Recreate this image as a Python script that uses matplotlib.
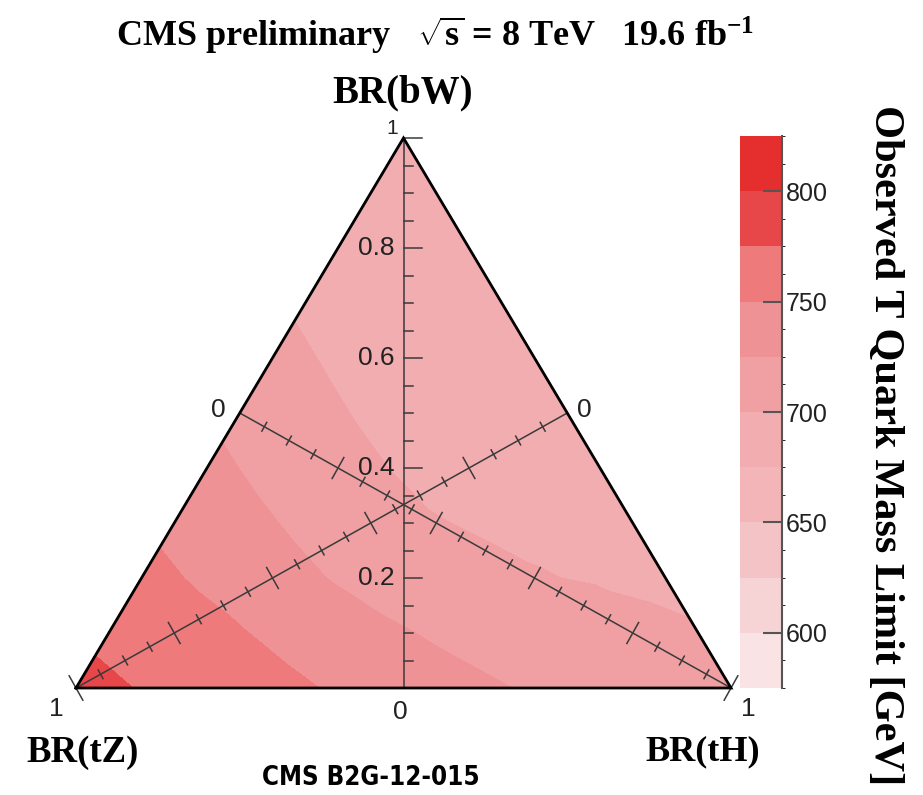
import numpy as np
import matplotlib
matplotlib.use("Agg")
import matplotlib.pyplot as plt
import matplotlib.tri as mtri
from matplotlib.colors import ListedColormap, BoundaryNorm

# ---------------- data ----------------
# Observed T quark mass limit [GeV] on a ternary lattice.
# Each row: fixed BR(bW); entries: BR(tH) = 0, 0.1, 0.2, ... ; BR(tZ) = 1 - bW - tH
bw_grid = [0.0, 0.1, 0.2, 0.3, 0.4, 0.5, 0.6, 0.7, 0.8, 0.9, 1.0]
lim_bw00 = [784, 773.5, 765.5, 757, 747, 738.5, 730, 722.2, 717.2, 712.7, 708]
lim_bw01 = [768.5, 759.5, 751.4, 740.6, 731.1, 722, 714.3, 710.2, 705, 701.5]
lim_bw02 = [756, 746.6, 734.2, 722.9, 712.4, 704.2, 701, 698.4, 695.8]
lim_bw03 = [745, 732, 720, 709, 700.6, 697.6, 695.5, 693.2]
lim_bw04 = [731, 718.3, 706.6, 697.9, 694.9, 692.9, 690.9]
lim_bw05 = [718, 706, 697, 694, 692, 690]
lim_bw06 = [706, 697, 694, 692, 690]
lim_bw07 = [697, 694, 692, 690]
lim_bw08 = [694, 692, 690]
lim_bw09 = [692, 690]
lim_bw10 = [690]
limit_rows = [lim_bw00, lim_bw01, lim_bw02, lim_bw03, lim_bw04, lim_bw05,
              lim_bw06, lim_bw07, lim_bw08, lim_bw09, lim_bw10]

z_min, z_max, z_step = 575, 825, 12.5
cbar_ticks = [600, 650, 700, 750, 800]
axis_tick_labels = ["0.2", "0.4", "0.6", "0.8"]

title_text = r"CMS preliminary   $\sqrt{s}$ = 8 TeV   19.6 fb$^{-1}$"
cbar_label = "Observed T Quark Mass Limit [GeV]"

# ---------------- style ----------------
plt.rcParams["font.family"] = ["Liberation Sans", "DejaVu Sans"]
plt.rcParams["mathtext.fontset"] = "custom"
plt.rcParams["mathtext.rm"] = "Liberation Serif:bold"
plt.rcParams["mathtext.it"] = "Liberation Serif:bold"
plt.rcParams["mathtext.bf"] = "Liberation Serif:bold"

palette = ["#f9e3e4", "#f9e3e4", "#f6d4d5", "#f6d4d5", "#f4c3c5", "#f4c3c5",
           "#f3b5b7", "#f3b5b7", "#f2adb0", "#f2adb0", "#f0a0a3", "#f0a0a3",
           "#ef9295", "#ef9295", "#ee7a7c", "#ee7a7c", "#e8474a", "#e8474a",
           "#e52e2e", "#e52e2e"]

FW, FH = 923, 795
fig = plt.figure(figsize=(FW / 100, FH / 100), dpi=100)

# triangle box in pixels
X0, X1, YT, YB = 76, 731, 138, 688
W, H = X1 - X0, YB - YT
ax = fig.add_axes([X0 / FW, 1 - YB / FH, W / FW, H / FH])
ax.set_xlim(0, W)
ax.set_ylim(0, H)
ax.axis("off")


def to_xy(bw, th):
    bw = np.asarray(bw, float)
    th = np.asarray(th, float)
    return (th + bw / 2.0) * W, bw * H


# build lattice
bw_pts, th_pts, z_pts = [], [], []
for bw, row in zip(bw_grid, limit_rows):
    for j, v in enumerate(row):
        bw_pts.append(bw)
        th_pts.append(j * 0.1)
        z_pts.append(v)
xs, ys = to_xy(bw_pts, th_pts)
tri = mtri.Triangulation(xs, ys)

levels = np.arange(z_min, z_max + 0.01, z_step)
cmap = ListedColormap(palette)
norm = BoundaryNorm(levels, cmap.N)
cs = ax.tricontourf(tri, z_pts, levels=levels, cmap=cmap, norm=norm)
cs.set_edgecolor("face")
cs.set_linewidth(0.6)

# triangle outline
vx, vy = to_xy([0, 0, 1, 0], [0, 1, 0, 0])
ax.plot(vx, vy, color="black", lw=2.0, clip_on=False, zorder=5, solid_joinstyle="miter")

axis_col = "#3a3a3a"
tick_fs = 19
# vertical BR(bW) axis
ax.plot([W / 2, W / 2], [0, H], color=axis_col, lw=1.1, zorder=4, clip_on=False)
for k in range(1, 21):
    yv = k * 0.05 * H
    major = (k % 4 == 0)
    ln = 18 if major else 9
    ax.plot([W / 2, W / 2 + ln], [yv, yv], color=axis_col, lw=1.1, zorder=4, clip_on=False)
for lab in axis_tick_labels:
    ax.text(W / 2 - 9, float(lab) * H, lab, ha="right", va="center", fontsize=tick_fs, color="#222")
ax.text(W / 2 - 6, H + 10, "1", ha="right", va="center", fontsize=15, color="#222")
ax.text(W / 2 - 3, -24, "0", ha="center", va="center", fontsize=tick_fs, color="#222")


def slanted_axis(p0, p1):
    p0 = np.array(p0, float)
    p1 = np.array(p1, float)
    d = p1 - p0
    L = np.hypot(*d)
    u = d / L
    n = np.array([-u[1], u[0]])
    ax.plot([p0[0], p1[0]], [p0[1], p1[1]], color=axis_col, lw=1.1, zorder=4, clip_on=False)
    for k in range(1, 21):
        p = p0 + d * (k * 0.05)
        half = 12 if k % 4 == 0 else 5
        if k == 20:
            half = 14
        a, b = p - n * half, p + n * half
        ax.plot([a[0], b[0]], [a[1], b[1]], color=axis_col, lw=1.1, zorder=4, clip_on=False)


# BR(tH) axis: from left-edge midpoint (tH=0) to tH vertex (tH=1)
m_left = to_xy(0.5, 0.0)
v_th = to_xy(0.0, 1.0)
slanted_axis(m_left, v_th)
# BR(tZ) axis: from right-edge midpoint (tZ=0) to tZ vertex (tZ=1)
m_right = to_xy(0.5, 0.5)
v_tz = to_xy(0.0, 0.0)
slanted_axis(m_right, v_tz)

ax.text(m_left[0] - 14, m_left[1] + 3, "0", ha="right", va="center", fontsize=tick_fs, color="#222")
ax.text(m_right[0] + 10, m_right[1] + 3, "0", ha="left", va="center", fontsize=tick_fs, color="#222")
ax.text(v_tz[0] - 20, v_tz[1] - 21, "1", ha="center", va="center", fontsize=tick_fs, color="#222")
ax.text(v_th[0] + 17, v_th[1] - 21, "1", ha="center", va="center", fontsize=tick_fs, color="#222")

# axis titles
serif = ["Liberation Serif", "DejaVu Serif"]
fig.text(403 / FW, 1 - 93 / FH, "BR(bW)", ha="center", va="center", family=serif,
         weight="bold", fontsize=28)
fig.text(83 / FW, 1 - 752 / FH, "BR(tZ)", ha="center", va="center", family=serif,
         weight="bold", fontsize=26.5)
fig.text(703 / FW, 1 - 752 / FH, "BR(tH)", ha="center", va="center", family=serif,
         weight="bold", fontsize=26)
fig.text(435 / FW, 1 - 35 / FH, title_text, ha="center", va="center", family=serif,
         weight="bold", fontsize=26)
fig.text(371 / FW, 1 - 778 / FH, "CMS B2G-12-015", ha="center", va="center",
         family=["DejaVu Sans", "Liberation Sans"], fontstretch="condensed",
         weight="bold", fontsize=18.5)

# colorbar
CX0, CX1, CYT, CYB = 740, 782, 136, 688
cax = fig.add_axes([CX0 / FW, 1 - CYB / FH, (CX1 - CX0) / FW, (CYB - CYT) / FH])
cb = fig.colorbar(cs, cax=cax, ticks=cbar_ticks)
cb.outline.set_visible(False)
cax.plot([1, 1], [0, 1], transform=cax.transAxes, color="#555", lw=1.5, clip_on=False)
cax.tick_params(axis="y", direction="in", length=14, width=1.5, color="#555", pad=3,
                labelsize=18, labelcolor="#222", right=True, left=False)
cax.set_yticklabels([str(t) for t in cbar_ticks])
fig.text(885 / FW, 1 - 445 / FH, cbar_label, rotation=270, ha="center", va="center",
         family=serif, weight="bold", fontsize=30.5)

fig.savefig("out.png", dpi=100)
